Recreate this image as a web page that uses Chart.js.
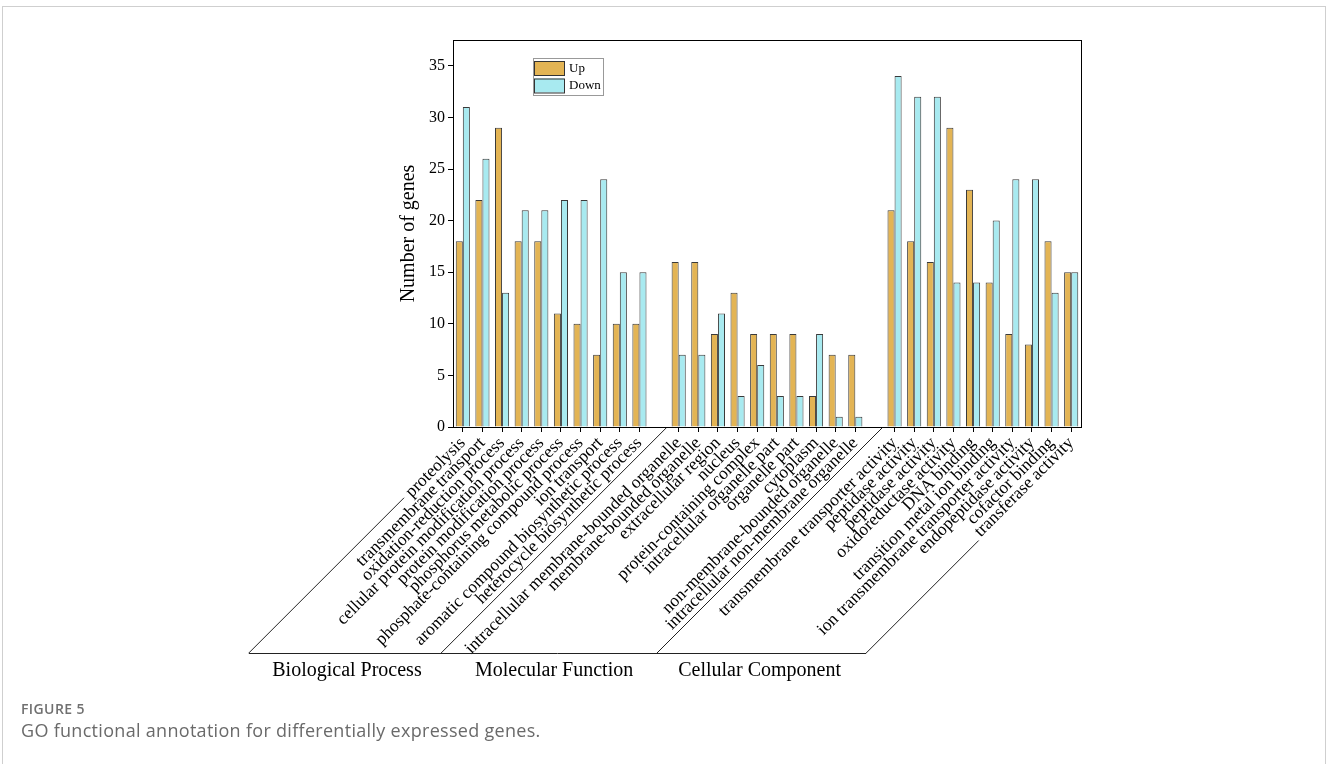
<!DOCTYPE html>
<html>
<head>
<meta charset="utf-8">
<script src="https://cdn.jsdelivr.net/npm/chart.js@4.4.1/dist/chart.umd.min.js"></script>
<style>
  body { margin: 0; background: #fff; width: 1328px; height: 764px; overflow: hidden; position: relative; }
  .card { position: absolute; left: 2px; top: 6px; right: 2px; height: 820px; border: 1px solid #cfcfcf; }
  #goChart { position: absolute; left: 0; top: 0; }
  .fig { position: absolute; left: 21px; top: 699px; font-family: "Open Sans", sans-serif; font-size: 14px; letter-spacing: 0.4px; font-weight: 600; color: #707070; }
  .cap { position: absolute; left: 21px; top: 718px; font-family: "Open Sans", sans-serif; font-size: 18px; letter-spacing: 0.3px; color: #6a6a6a; }
</style>
</head>
<body>
<div class="card"></div>
<canvas id="goChart" width="1328" height="764"></canvas>
<div class="fig">FIGURE 5</div>
<div class="cap">GO functional annotation for differentially expressed genes.</div>
<script>
// empty strings are the spacer slots between groups
const categories = [
  "proteolysis", "transmembrane transport", "oxidation-reduction process",
  "cellular protein modification process", "protein modification process",
  "phosphorus metabolic process", "phosphate-containing compound process",
  "ion transport", "aromatic compound biosynthetic process", "heterocycle biosynthetic process",
  "",
  "intracellular membrane-bounded organelle", "membrane-bounded organelle", "extracellular region",
  "nucleus", "protein-containing complex", "intracellular organelle part", "organelle part",
  "cytoplasm", "non-membrane-bounded organelle", "intracellular non-membrane organelle",
  "",
  "transmembrane transporter activity", "peptidase activity", "peptidase activity",
  "oxidoreductase activity", "DNA binding", "transition metal ion binding",
  "ion transmembrane transporter activity", "endopeptidase activity", "cofactor binding",
  "transferase activity"
];
const upValues = [18, 22, 29, 18, 18, 11, 10, 7, 10, 10, null,
  16, 16, 9, 13, 9, 9, 9, 3, 7, 7, null,
  21, 18, 16, 29, 23, 14, 9, 8, 18, 15];
const downValues = [31, 26, 13, 21, 21, 22, 22, 24, 15, 15, null,
  7, 7, 11, 3, 6, 3, 3, 9, 1, 1, null,
  34, 32, 32, 14, 14, 20, 24, 24, 13, 15];
const groupNames = ["Biological Process", "Molecular Function", "Cellular Component"];
const seriesNames = ["Up", "Down"];
const yMax = 37.5;
const yStep = 5;

Chart.defaults.font.family = "'Liberation Serif', 'Times New Roman', serif";
Chart.defaults.color = "#000";

// slanted bracket lines under the category labels (index on x scale, share drawn from bottom)
const brackets = [
  { at: 0.56, reach: 0.69 },
  { at: 10.36, reach: 1 },
  { at: 21.36, reach: 1 },
  { at: 32.02, reach: 0.5 }
];
const groupShift = [2, 5, -2];

const extras = {
  id: "extras",
  afterDraw(chart) {
    const { ctx, chartArea: a, scales: { x } } = chart;
    const w = x.getPixelForValue(1) - x.getPixelForValue(0);
    const px = v => x.getPixelForValue(0) + v * w;
    const drop = 225;
    const axisY = a.bottom + 1;
    const baseY = axisY + drop;

    ctx.save();
    // frame
    ctx.strokeStyle = "#000";
    ctx.lineWidth = 1;
    ctx.strokeRect(a.left + 0.5, a.top + 0.5, a.right - a.left, a.bottom - a.top);

    // brackets
    ctx.strokeStyle = "#222";
    const bottoms = brackets.map(b => px(b.at) - drop);
    ctx.beginPath();
    brackets.forEach((b, i) => {
      ctx.moveTo(bottoms[i], baseY);
      ctx.lineTo(bottoms[i] + drop * b.reach, baseY - drop * b.reach);
    });
    ctx.moveTo(bottoms[0], baseY + 0.5);
    ctx.lineTo(bottoms[bottoms.length - 1], baseY + 0.5);
    ctx.stroke();

    ctx.fillStyle = "#000";
    ctx.font = "20px 'Liberation Serif', serif";
    ctx.textAlign = "center";
    ctx.textBaseline = "alphabetic";
    groupNames.forEach((g, i) => {
      ctx.fillText(g, (bottoms[i] + bottoms[i + 1]) / 2 + groupShift[i], baseY + 23);
    });

    // legend box
    const lx = a.left + 80, ly = a.top + 18;
    ctx.strokeStyle = "#999";
    ctx.strokeRect(lx + 0.5, ly + 0.5, 70, 37);
    ctx.font = "13px 'Liberation Serif', serif";
    ctx.textAlign = "left";
    ctx.textBaseline = "middle";
    chart.data.datasets.forEach((ds, i) => {
      const sy = ly + 3 + i * 17.5;
      ctx.fillStyle = ds.backgroundColor;
      ctx.fillRect(lx + 1, sy, 30, 14);
      ctx.strokeStyle = "#333";
      ctx.strokeRect(lx + 1.5, sy + 0.5, 30, 14);
      ctx.fillStyle = "#000";
      ctx.fillText(ds.label, lx + 36, sy + 7.5);
    });
    ctx.restore();
  }
};

new Chart(document.getElementById("goChart"), {
  type: "bar",
  data: {
    labels: categories,
    datasets: [
      { label: seriesNames[0], data: upValues, backgroundColor: "#E3B454", borderColor: "#3a3a3a", borderWidth: 1 },
      { label: seriesNames[1], data: downValues, backgroundColor: "#A8EAF0", borderColor: "#3a3a3a", borderWidth: 1 }
    ]
  },
  options: {
    responsive: false,
    animation: false,
    devicePixelRatio: 1,
    categoryPercentage: 0.72,
    barPercentage: 1,
    layout: { padding: { top: 40, left: 393, right: 247, bottom: 37 } },
    plugins: { legend: { display: false }, tooltip: { enabled: false } },
    scales: {
      x: {
        afterFit: s => { s.height = 300; },
        grid: {
          offset: false,
          drawOnChartArea: false,
          tickLength: 5,
          color: c => (categories[c.index] ? "#000" : "rgba(0,0,0,0)")
        },
        border: { color: "#000", width: 1 },
        ticks: { autoSkip: false, minRotation: 45, maxRotation: 45, padding: 1, font: { size: 17.5 }, color: "#000" }
      },
      y: {
        min: 0,
        max: yMax,
        afterFit: s => { s.width = 60; },
        grid: { drawOnChartArea: false, tickLength: 5, color: "#000" },
        border: { color: "#000", width: 1 },
        ticks: { stepSize: yStep, includeBounds: false, padding: 3, font: { size: 16 }, color: "#000" },
        title: { display: true, text: "Number of genes", font: { size: 20 }, color: "#000", padding: { top: 4, bottom: 4 } }
      }
    }
  },
  plugins: [extras]
});
</script>
</body>
</html>
